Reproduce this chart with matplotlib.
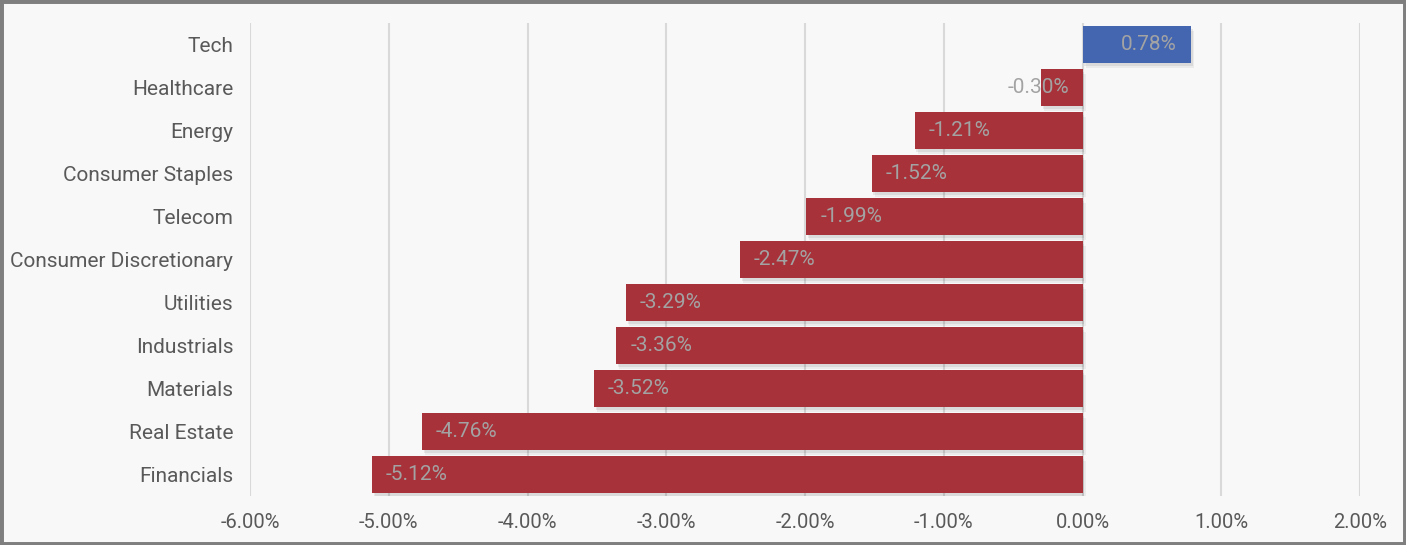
import matplotlib

matplotlib.use("Agg")
import matplotlib.pyplot as plt
from matplotlib.ticker import FuncFormatter
from matplotlib.transforms import offset_copy
from matplotlib.patches import Rectangle

sectors = [
    "Tech", "Healthcare", "Energy", "Consumer Staples", "Telecom",
    "Consumer Discretionary", "Utilities", "Industrials", "Materials",
    "Real Estate", "Financials",
]
returns = [0.78, -0.30, -1.21, -1.52, -1.99, -2.47, -3.29, -3.36, -3.52, -4.76, -5.12]
x_ticks = [-6, -5, -4, -3, -2, -1, 0, 1, 2]

RED = "#a8323a"
BLUE = "#4466b0"
BG = "#f8f8f8"
LABEL = "#a3a3a3"
TICK = "#595959"

plt.rcParams["font.family"] = ["Roboto", "DejaVu Sans"]

fig = plt.figure(figsize=(14.06, 5.45), dpi=100, facecolor=BG)
ax = fig.add_axes([250 / 1406, 1 - 496 / 545, 1110 / 1406, 473 / 545])
ax.set_facecolor(BG)

y = list(range(len(sectors)))
colors = [BLUE if v >= 0 else RED for v in returns]

# soft drop shadow under each bar
for shift, alpha in [(5, 0.05), (3, 0.07)]:
    tr = offset_copy(ax.transData, fig=fig, x=shift * 0.6, y=-shift, units="dots")
    ax.barh(y, returns, height=0.84, color="#000000", alpha=alpha,
            transform=tr, zorder=2, linewidth=0)

ax.barh(y, returns, height=0.84, color=colors, zorder=3, linewidth=0)

for yi, v in zip(y, returns):
    txt = f"{v:.2f}%"
    if v >= 0:
        tr = offset_copy(ax.transData, fig=fig, x=-14, y=0, units="dots")
        ax.text(v, yi, txt, ha="right", va="center", color=LABEL, fontsize=15, transform=tr, zorder=4)
    elif v > -0.6:
        tr = offset_copy(ax.transData, fig=fig, x=-13, y=0, units="dots")
        ax.text(0, yi, txt, ha="right", va="center", color=LABEL, fontsize=15, transform=tr, zorder=4)
    else:
        tr = offset_copy(ax.transData, fig=fig, x=14, y=0, units="dots")
        ax.text(v, yi, txt, ha="left", va="center", color=LABEL, fontsize=15, transform=tr, zorder=4)

ax.set_xlim(-6, 2)
ax.set_ylim(len(sectors) - 0.5, -0.5)
ax.set_xticks(x_ticks)
ax.xaxis.set_major_formatter(FuncFormatter(lambda v, _: f"{v:.2f}%"))
ax.set_yticks(y, sectors)
ax.tick_params(axis="x", length=0, colors=TICK, labelsize=14.5, pad=12)
ax.tick_params(axis="y", length=0, colors=TICK, labelsize=15, pad=12)
ax.grid(axis="x", color="#d9d9d9", linewidth=1.5, zorder=0)
ax.set_axisbelow(True)
for s in ax.spines.values():
    s.set_visible(False)

fig.patches.append(Rectangle((0, 0), 1, 1, transform=fig.transFigure, fill=False,
                             edgecolor="#7f7f7f", linewidth=5))

fig.savefig("out.png", dpi=100, facecolor=BG)
